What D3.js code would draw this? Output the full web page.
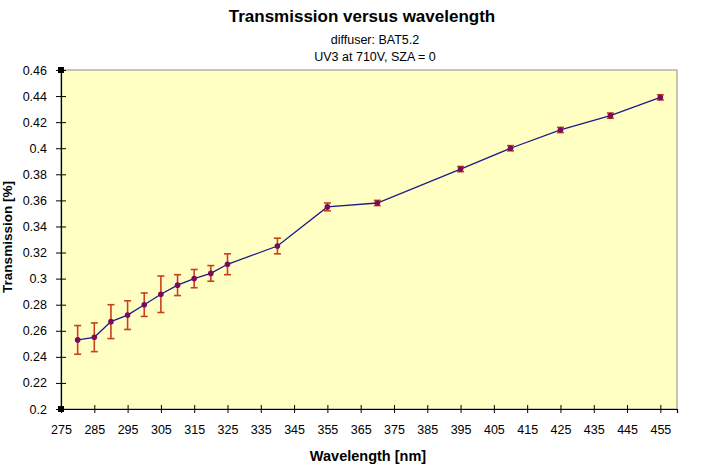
<!DOCTYPE html>
<html>
<head>
<meta charset="utf-8">
<script src="https://cdn.jsdelivr.net/npm/d3@7"></script>
<style>
  html, body { margin: 0; padding: 0; background: #ffffff; }
  svg { display: block; }
</style>
</head>
<body>
<svg id="chart" width="710" height="473"></svg>
<script>
// ---- data ----
const wavelengths = [280, 285, 290, 295, 300, 305, 310, 315, 320, 325, 340, 355, 370, 395, 410, 425, 440, 455];
const transmission = [0.253, 0.255, 0.267, 0.272, 0.280, 0.288, 0.295, 0.300, 0.304, 0.311, 0.325, 0.355, 0.358, 0.384, 0.400, 0.414, 0.425, 0.439];
const errors = [0.011, 0.011, 0.013, 0.011, 0.009, 0.014, 0.008, 0.007, 0.006, 0.008, 0.006, 0.003, 0.002, 0.002, 0.002, 0.002, 0.002, 0.002];
const xTicks = [275, 285, 295, 305, 315, 325, 335, 345, 355, 365, 375, 385, 395, 405, 415, 425, 435, 445, 455];
const yTicks = [0.2, 0.22, 0.24, 0.26, 0.28, 0.3, 0.32, 0.34, 0.36, 0.38, 0.4, 0.42, 0.44, 0.46];
const titleText = "Transmission versus wavelength";
const subtitles = ["diffuser: BAT5.2", "UV3 at 710V, SZA = 0"];
const xLabel = "Wavelength [nm]";
const yLabel = "Transmission [%]";

const points = wavelengths.map((w, i) => ({ w, t: transmission[i], e: errors[i] }));

// ---- layout ----
const svg = d3.select("#chart");
const pL = 61, pR = 677, pT = 70, pB = 409;
const x = d3.scaleLinear().domain([275, 460]).range([pL, pR]);
const y = d3.scaleLinear().domain([0.2, 0.46]).range([pB, pT]);
const font = "'Liberation Sans', Arial, sans-serif";

// plot area
svg.append("rect")
  .attr("x", pL).attr("y", pT)
  .attr("width", pR - pL).attr("height", pB - pT)
  .attr("fill", "#ffffc4")
  .attr("stroke", "#8c8c8c").attr("stroke-width", 1);

// axes
const yAxis = d3.axisLeft(y).tickValues(yTicks).tickSize(5).tickPadding(9)
  .tickFormat(d => String(+d.toFixed(2)));
const gy = svg.append("g").attr("transform", `translate(${pL},0)`).call(yAxis);
gy.select(".domain").attr("stroke", "#000").attr("stroke-width", 1.2);
gy.selectAll(".tick line").attr("x1", 5).attr("stroke", "#000");
gy.selectAll(".tick text").attr("font-family", font).attr("font-size", 12.5).attr("fill", "#000");

const xAxis = d3.axisBottom(x).tickValues(xTicks).tickSize(4).tickPadding(12)
  .tickFormat(d3.format("d"));
const gx = svg.append("g").attr("transform", `translate(0,${pB})`).call(xAxis);
gx.select(".domain").attr("stroke", "#000").attr("stroke-width", 1.2);
gx.selectAll(".tick line").attr("y1", -4).attr("stroke", "#000");
gx.selectAll(".tick text").attr("font-family", font).attr("font-size", 12.5).attr("fill", "#000");

// axis-end handles
[[pL, pT], [pL, pB]].forEach(([hx, hy]) => {
  svg.append("rect").attr("x", hx - 3).attr("y", hy - 3).attr("width", 6).attr("height", 6).attr("fill", "#000");
});

// line
const line = d3.line().x(d => x(d.w)).y(d => y(d.t));
svg.append("path").datum(points)
  .attr("d", line).attr("fill", "none")
  .attr("stroke", "#1c1c86").attr("stroke-width", 1.3);

// error bars
const eb = svg.append("g").attr("stroke", "#c8401c").attr("stroke-width", 1.6);
points.forEach(d => {
  const cx = x(d.w), y1 = y(d.t + d.e), y2 = y(d.t - d.e);
  eb.append("line").attr("x1", cx).attr("x2", cx).attr("y1", y1).attr("y2", y2);
  eb.append("line").attr("x1", cx - 3.5).attr("x2", cx + 3.5).attr("y1", y1).attr("y2", y1);
  eb.append("line").attr("x1", cx - 3.5).attr("x2", cx + 3.5).attr("y1", y2).attr("y2", y2);
});

// markers
svg.append("g").selectAll("circle").data(points).join("circle")
  .attr("cx", d => x(d.w)).attr("cy", d => y(d.t)).attr("r", 2.8)
  .attr("fill", "#7a0a5a");

// titles
svg.append("text").attr("x", 362).attr("y", 22).attr("text-anchor", "middle")
  .attr("font-family", font).attr("font-size", 17).attr("font-weight", "bold").text(titleText);
subtitles.forEach((s, i) => {
  svg.append("text").attr("x", 375).attr("y", 44 + i * 17).attr("text-anchor", "middle")
    .attr("font-family", font).attr("font-size", 12.5).text(s);
});

svg.append("text").attr("x", 368).attr("y", 461).attr("text-anchor", "middle")
  .attr("font-family", font).attr("font-size", 14.5).attr("font-weight", "bold").text(xLabel);

svg.append("text").attr("transform", `translate(12,237) rotate(-90)`).attr("text-anchor", "middle")
  .attr("font-family", font).attr("font-size", 13.5).attr("font-weight", "bold").text(yLabel);
</script>
</body>
</html>
